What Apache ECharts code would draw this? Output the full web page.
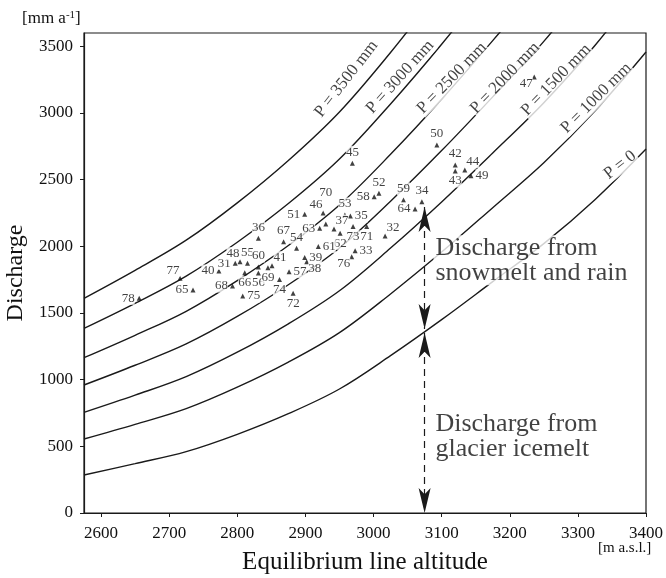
<!DOCTYPE html>
<html><head><meta charset="utf-8">
<script src="https://cdn.jsdelivr.net/npm/echarts@6/dist/echarts.min.js"></script>
<style>html,body{margin:0;padding:0;background:#fff}#c{width:666px;height:578px}</style>
</head><body><div id="c"></div>
<script>
// ---- data ----
const ela = [2575, 2650, 2725, 2800, 2875, 2950, 3025, 3100, 3175, 3250, 3325, 3400];
const curveP0    = [285, 370, 460, 590, 745, 930, 1180, 1450, 1735, 2020, 2350, 2730];
const curveP1000 = [555, 665, 783, 944, 1132, 1353, 1643, 1957, 2290, 2627, 3014, 3457];
const curveP1500 = [755, 884, 1023, 1206, 1419, 1667, 1987, 2333, 2700, 3077, 3506, 3995];
const curveP2000 = [960, 1108, 1268, 1474, 1712, 1988, 2338, 2718, 3121, 3537, 4011, 4500];
const curveP2500 = [1165, 1333, 1513, 1743, 2006, 2310, 2690, 3103, 3543, 3998, 4500, 5000];
const curveP3000 = [1385, 1573, 1777, 2031, 2321, 2655, 3068, 3516, 3994, 4500, 5000, 5500];
const curveP3500 = [1610, 1820, 2046, 2326, 2644, 3008, 3454, 3938, 4400, 4900, 5400, 5900];
const curveNames = ['P = 0', 'P = 1000 mm', 'P = 1500 mm', 'P = 2000 mm', 'P = 2500 mm', 'P = 3000 mm', 'P = 3500 mm'];

const pointIds = ['78','77','65','40','31','48','55','60','56','66','68','41','69','74','57','72','75','36','67','54','39','38','51','46','63','37','70','53','35','73','71','62','61','32','33','76','45','58','52','59','34','64','50','42','43','44','49','47'];
const pointEla = [2656,2716,2735,2773,2797,2804,2815,2831,2831,2811,2793,2851,2845,2862,2876,2882,2808,2831,2868,2887,2899,2902,2899,2926,2921,2942,2930,2958,2966,2970,2990,2951,2919,3017,2973,2968,2969,3001,3008,3044,3071,3061,3093,3120,3120,3134,3143,3236];
const pointQ   = [1610,1760,1672,1815,1873,1885,1873,1845,1800,1802,1702,1855,1840,1752,1810,1648,1627,2060,2035,1985,1916,1885,2240,2250,2135,2130,2167,2235,2228,2148,2148,2098,1998,2078,1967,1922,2623,2372,2398,2348,2335,2280,2760,2610,2565,2573,2530,3270];

// dashed double arrows: ELA, and discharge at arrow tips
const arrowEla = 3075;
const snowRainTips = [2295, 1380];
const iceMeltTips = [1350, 0];

const xTicks = [2600, 2700, 2800, 2900, 3000, 3100, 3200, 3300, 3400];
const yTicks = [0, 500, 1000, 1500, 2000, 2500, 3000, 3500];

// ---- styling / placement (not data) ----
const labelPlace = {'78':'left','77':'tl','65':'left','40':'left','31':'left','48':'tl','55':'top','60':'top','56':'bottom','66':'bottom','68':'left','41':'tr','69':'bottom','74':'bottom','57':'right','72':'bottom','75':'right','36':'top','67':'top','54':'top','39':'right','38':'br','51':'left','46':'tl','63':'left','37':'tr','70':'leader','53':'top','35':'right','73':'bottom','71':'bottom','62':'bottom','61':'right','32':'tr','33':'right','76':'bl','45':'top','58':'left','52':'top','59':'top','34':'top','64':'left','50':'top','42':'top','43':'bottom','44':'tr','49':'right','47':'bl'};
const curveLabelAt = [[3362, 2610, 38], [3327, 3112, 45], [3268, 3248, 46], [3193, 3262, 46], [3115, 3262, 46], [3039, 3270, 48], [2960, 3255, 52]];

const FONT = 'Liberation Serif';
const chart = echarts.init(document.getElementById('c'), null, {renderer: 'canvas'});

const curves = [curveP0, curveP1000, curveP1500, curveP2000, curveP2500, curveP3000, curveP3500];
const lineSeries = curves.map((c, k) => ({
  type: 'line', name: curveNames[k], data: c.map((v, i) => [ela[i], v]),
  smooth: 0.35, symbol: 'none', clip: true, z: 2,
  lineStyle: {color: '#1a1a1a', width: 1.4}
}));

function placeLabel(p) {
  const m = {
    left: {position: 'left', distance: 2},
    right: {position: 'right', distance: 2},
    top: {position: 'top', distance: 2},
    bottom: {position: 'bottom', distance: 1},
    tl: {position: 'top', distance: 1, offset: [-7, 2]},
    tr: {position: 'top', distance: 1, offset: [8, 2]},
    bl: {position: 'bottom', distance: 0, offset: [-8, -2]},
    br: {position: 'bottom', distance: 0, offset: [8, -2]},
    leader: {position: 'top', distance: 22}
  };
  return m[p];
}

const pointData = pointIds.map((id, i) => ({
  value: [pointEla[i], pointQ[i]], name: id,
  label: Object.assign({show: true, formatter: id}, placeLabel(labelPlace[id]))
}));

const arrowSeries = {
  type: 'line', data: [], z: 4,
  markLine: {
    silent: true, animation: false,
    symbol: ['arrow', 'arrow'], symbolSize: [9, 25],
    label: {show: false},
    lineStyle: {color: '#1a1a1a', width: 1.2, type: [7, 5]},
    itemStyle: {color: '#1a1a1a'},
    data: [
      [{coord: [arrowEla, snowRainTips[0]]}, {coord: [arrowEla, snowRainTips[1]]}],
      [{coord: [arrowEla, iceMeltTips[0]]}, {coord: [arrowEla, iceMeltTips[1]]}]
    ]
  }
};

const option = {
  animation: false,
  backgroundColor: '#fff',
  textStyle: {fontFamily: FONT, color: '#111'},
  grid: {left: 84, right: 20, top: 33, bottom: 65, containLabel: false, outerBoundsMode: 'none',
    show: true, borderColor: '#1a1a1a', borderWidth: 1.2, backgroundColor: 'transparent'},
  xAxis: {
    type: 'value', min: 2575, max: 3400,
    name: 'Equilibrium line altitude', nameLocation: 'middle', nameGap: 37,
    nameTextStyle: {fontFamily: FONT, fontSize: 25, color: '#111'},
    axisLine: {show: true, lineStyle: {color: '#1a1a1a', width: 1.2}},
    axisTick: {show: true, length: 4, customValues: xTicks, lineStyle: {color: '#1a1a1a'}},
    axisLabel: {customValues: xTicks, formatter: v => String(v), fontFamily: FONT, fontSize: 17, color: '#111', margin: 12},
    splitLine: {show: false}
  },
  yAxis: {
    type: 'value', min: 0, max: 3600,
    name: 'Discharge', nameLocation: 'middle', nameGap: 54, nameRotate: 90,
    nameTextStyle: {fontFamily: FONT, fontSize: 24, color: '#111'},
    axisLine: {show: true, lineStyle: {color: '#1a1a1a', width: 1.2}},
    axisTick: {show: true, length: 4, customValues: yTicks, lineStyle: {color: '#1a1a1a'}},
    axisLabel: {customValues: yTicks, formatter: v => String(v), fontFamily: FONT, fontSize: 17, color: '#111', margin: 11},
    splitLine: {show: false}
  },
  graphic: [
    {type: 'text', left: 22, top: 10, style: {text: '[mm a{s|-1}]', font: '17px "Liberation Serif"', fill: '#111',
      rich: {s: {fontSize: 11, verticalAlign: 'top', padding: [0, 0, 7, 0], fontFamily: FONT}}}},
    {type: 'text', left: 598, top: 541, style: {text: '[m a.s.l.]', font: '15px "Liberation Serif"', fill: '#111'}}
  ],
  series: [
    ...lineSeries,
    {
      type: 'scatter', name: 'curveLabels', z: 3, symbolSize: 0, silent: true,
      data: curveNames.map((n, k) => ({value: [curveLabelAt[k][0], curveLabelAt[k][1]], name: n,
        label: {rotate: curveLabelAt[k][2]}})),
      label: {show: true, position: 'inside', formatter: p => p.name, fontFamily: FONT, fontSize: 17, color: '#111',
        backgroundColor: '#fff', padding: [0, 1]}
    },
    {
      type: 'scatter', name: 'notes', z: 3, symbolSize: 0, silent: true,
      data: [
        {value: [3088, 1895], name: 'Discharge from\nsnowmelt and rain'},
        {value: [3088, 570], name: 'Discharge from\nglacier icemelt'}
      ],
      label: {show: true, position: 'right', distance: 0, formatter: p => p.name, fontFamily: FONT, fontSize: 26,
        lineHeight: 25, color: '#111', align: 'left', backgroundColor: '#fff', padding: [0, 2]}
    },
    arrowSeries,
    {
      type: 'scatter', name: 'glaciers', z: 5, symbol: 'triangle', symbolSize: [5, 5],
      itemStyle: {color: '#111'},
      data: pointData,
      label: {show: true, fontFamily: FONT, fontSize: 13, color: '#111', backgroundColor: '#fff', padding: 0},
      labelLine: {show: false},
      emphasis: {disabled: true}
    }
  ]
};
chart.setOption(option);
</script>
</body></html>
